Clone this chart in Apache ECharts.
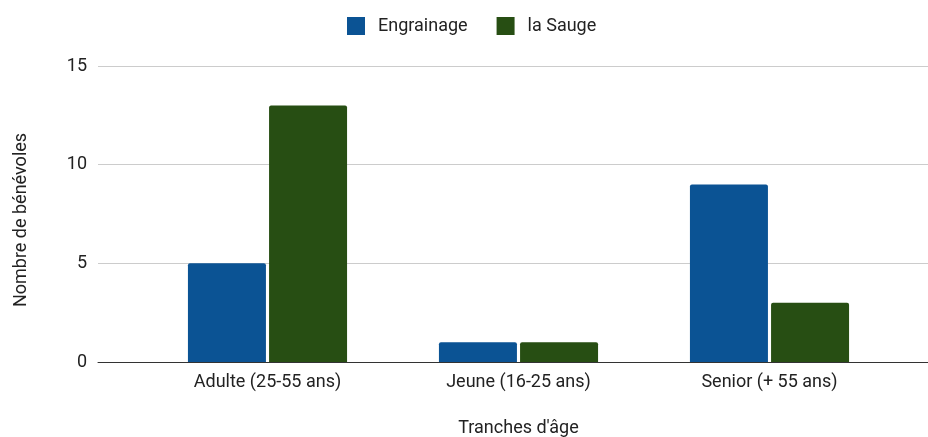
<!DOCTYPE html>
<html>
<head>
<meta charset="utf-8">
<script src="https://cdn.jsdelivr.net/npm/echarts@6/dist/echarts.min.js"></script>
<style>
  html, body { margin: 0; padding: 0; background: #fff; }
  #chart { width: 928px; height: 437px; }
</style>
</head>
<body>
<div id="chart"></div>
<script>
// categories + values
const categories = ["Adulte (25-55 ans)", "Jeune (16-25 ans)", "Senior (+ 55 ans)"];
const engrainage = [5, 1, 9];
const laSauge = [13, 1, 3];
const yTicks = [0, 5, 10, 15];

const font = "Roboto, Arial, sans-serif";
const chart = echarts.init(document.getElementById("chart"));

const option = {
  animation: false,
  textStyle: { fontFamily: font },
  legend: {
    top: 12,
    left: 342,
    itemWidth: 18,
    itemHeight: 18,
    itemGap: 29,
    icon: "rect",
    textStyle: { fontSize: 18, color: "#222", padding: [0, 0, 0, 8] },
    data: ["Engrainage", "la Sauge"]
  },
  grid: [
    // wide grid: gridlines + baseline across the full width
    { left: 98, right: 0, top: 66, bottom: 75, containLabel: false, outerBoundsMode: "none" },
    // narrower grid where the bars sit
    { left: 142, right: 33, top: 66, bottom: 75, containLabel: false, outerBoundsMode: "none" }
  ],
  xAxis: [
    {
      gridIndex: 0,
      type: "value",
      min: 0,
      max: 1,
      axisLine: { show: true, lineStyle: { color: "#333", width: 1 } },
      axisTick: { show: false },
      axisLabel: { show: false },
      splitLine: { show: false }
    },
    {
      gridIndex: 1,
      type: "category",
      data: categories,
      axisLine: { show: false },
      axisTick: { show: false },
      axisLabel: { fontSize: 18, color: "#222", margin: 11 },
      name: "Tranches d'âge",
      nameLocation: "middle",
      nameGap: 57,
      nameTextStyle: { fontSize: 18, color: "#222" }
    }
  ],
  yAxis: [
    {
      gridIndex: 0,
      type: "value",
      min: yTicks[0],
      max: yTicks[yTicks.length - 1],
      interval: 5,
      axisLine: { show: false },
      axisTick: { show: false },
      axisLabel: { fontSize: 18, color: "#222", margin: 11 },
      splitLine: { lineStyle: { color: "#ccc", width: 1 } },
      name: "Nombre de bénévoles",
      nameLocation: "middle",
      nameRotate: 90,
      nameGap: 68,
      nameTextStyle: { fontSize: 18, color: "#222", padding: [0, 12, 0, 0] }
    },
    {
      gridIndex: 1,
      type: "value",
      min: yTicks[0],
      max: yTicks[yTicks.length - 1],
      interval: 5,
      show: false
    }
  ],
  series: [
    {
      name: "Engrainage",
      type: "bar",
      xAxisIndex: 1,
      yAxisIndex: 1,
      data: engrainage,
      barWidth: 78,
      barGap: "4%",
      itemStyle: { color: "#0b5394", borderRadius: [2, 2, 0, 0] }
    },
    {
      name: "la Sauge",
      type: "bar",
      xAxisIndex: 1,
      yAxisIndex: 1,
      data: laSauge,
      barWidth: 78,
      barGap: "4%",
      itemStyle: { color: "#274e13", borderRadius: [2, 2, 0, 0] }
    }
  ]
};

chart.setOption(option);
</script>
</body>
</html>
